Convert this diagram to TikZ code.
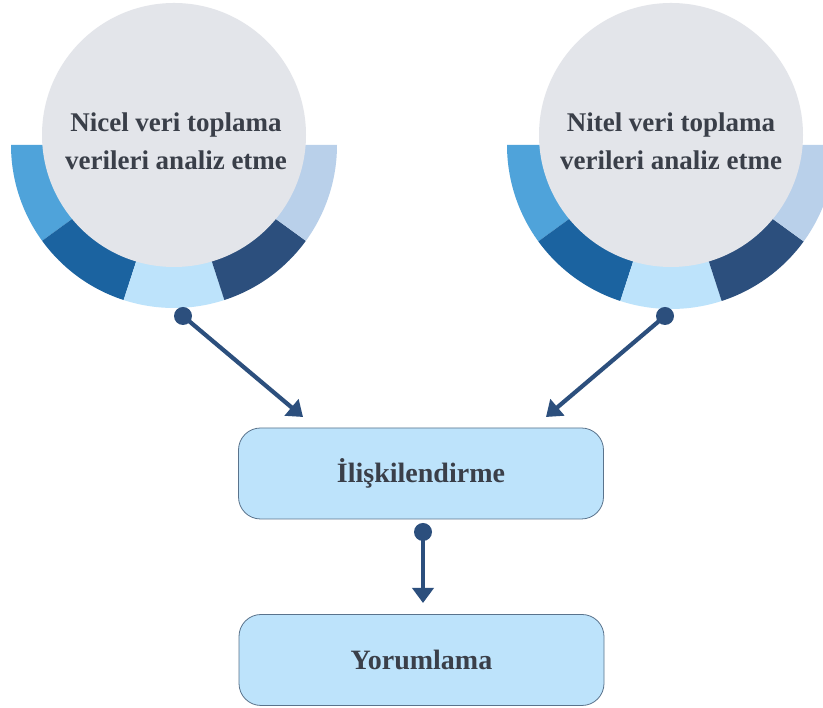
\documentclass[tikz,border=0pt]{standalone}
\usepackage{fontspec}
\setmainfont{Liberation Serif}
\usepackage{xcolor}
\usetikzlibrary{arrows.meta,shapes,calc,positioning}

\definecolor{segA}{HTML}{4FA3DA}
\definecolor{segB}{HTML}{1B63A0}
\definecolor{segC}{HTML}{BDE3FB}
\definecolor{segD}{HTML}{2C4F7D}
\definecolor{segE}{HTML}{B9D0EA}
\definecolor{bubblegrey}{HTML}{E3E5EA}
\definecolor{inktext}{HTML}{3A3F49}
\definecolor{navy}{HTML}{2C4F7D}
\definecolor{boxfill}{HTML}{BDE3FB}
\definecolor{boxline}{HTML}{5A738C}

\tikzset{
    bubble/.style={circle, fill=bubblegrey, minimum size=264pt, inner sep=0pt},
    caption/.style={align=center, text=inktext, font=\fontsize{27}{38}\selectfont\bfseries},
    stage/.style={draw=boxline, line width=0.8pt, fill=boxfill, rounded corners=22pt,
        minimum width=365pt, minimum height=91pt, text=inktext, font=\fontsize{28}{32}\selectfont\bfseries},
    dot/.style={circle, fill=navy, minimum size=18pt, inner sep=0pt},
    link/.style={-{Triangle[length=15pt,width=21pt]}, line width=4.2pt, draw=navy}
}

\begin{document}
\begin{tikzpicture}[x=1pt,y=1pt]
    \clip (0,0) rectangle (823,708);
    \fill[white] (0,0) rectangle (823,708);

    \coordinate (lring) at (174,563);
    \coordinate (rring) at (671,563);
    \foreach \a/\c in {180/segA,216/segB,252/segC,288/segD,324/segE}{
        \fill[\c] (lring) -- ++(\a:163) arc[start angle=\a, delta angle=36, radius=163] -- cycle;
        \fill[\c] (rring) -- ++(\a:164) arc[start angle=\a, delta angle=36, radius=164] -- cycle;
    }

    \node[bubble] at (174,573) (nicel) {};
    \node[bubble] at (671,573) (nitel) {};
    \node[caption] at (176,567) (niceltext) {Nicel veri toplama\\verileri analiz etme};
    \node[caption] at (671,567) (niteltext) {Nitel veri toplama\\verileri analiz etme};

    \node[stage] at (421,234.5) (iliski) {İlişkilendirme};
    \node[stage] at (421.5,48) (yorum) {Yorumlama};

    \node[dot] at (183,392) (ldot) {};
    \node[dot] at (665,392) (rdot) {};
    \node[dot] at (423,176) (mdot) {};
    \coordinate (lend) at (303,291);
    \coordinate (rend) at (546,291);
    \coordinate (mend) at (423,105);

    \draw[link] (ldot.center) -- (lend);
    \draw[link] (rdot.center) -- (rend);
    \draw[link] (mdot.center) -- (mend);
\end{tikzpicture}
\end{document}
